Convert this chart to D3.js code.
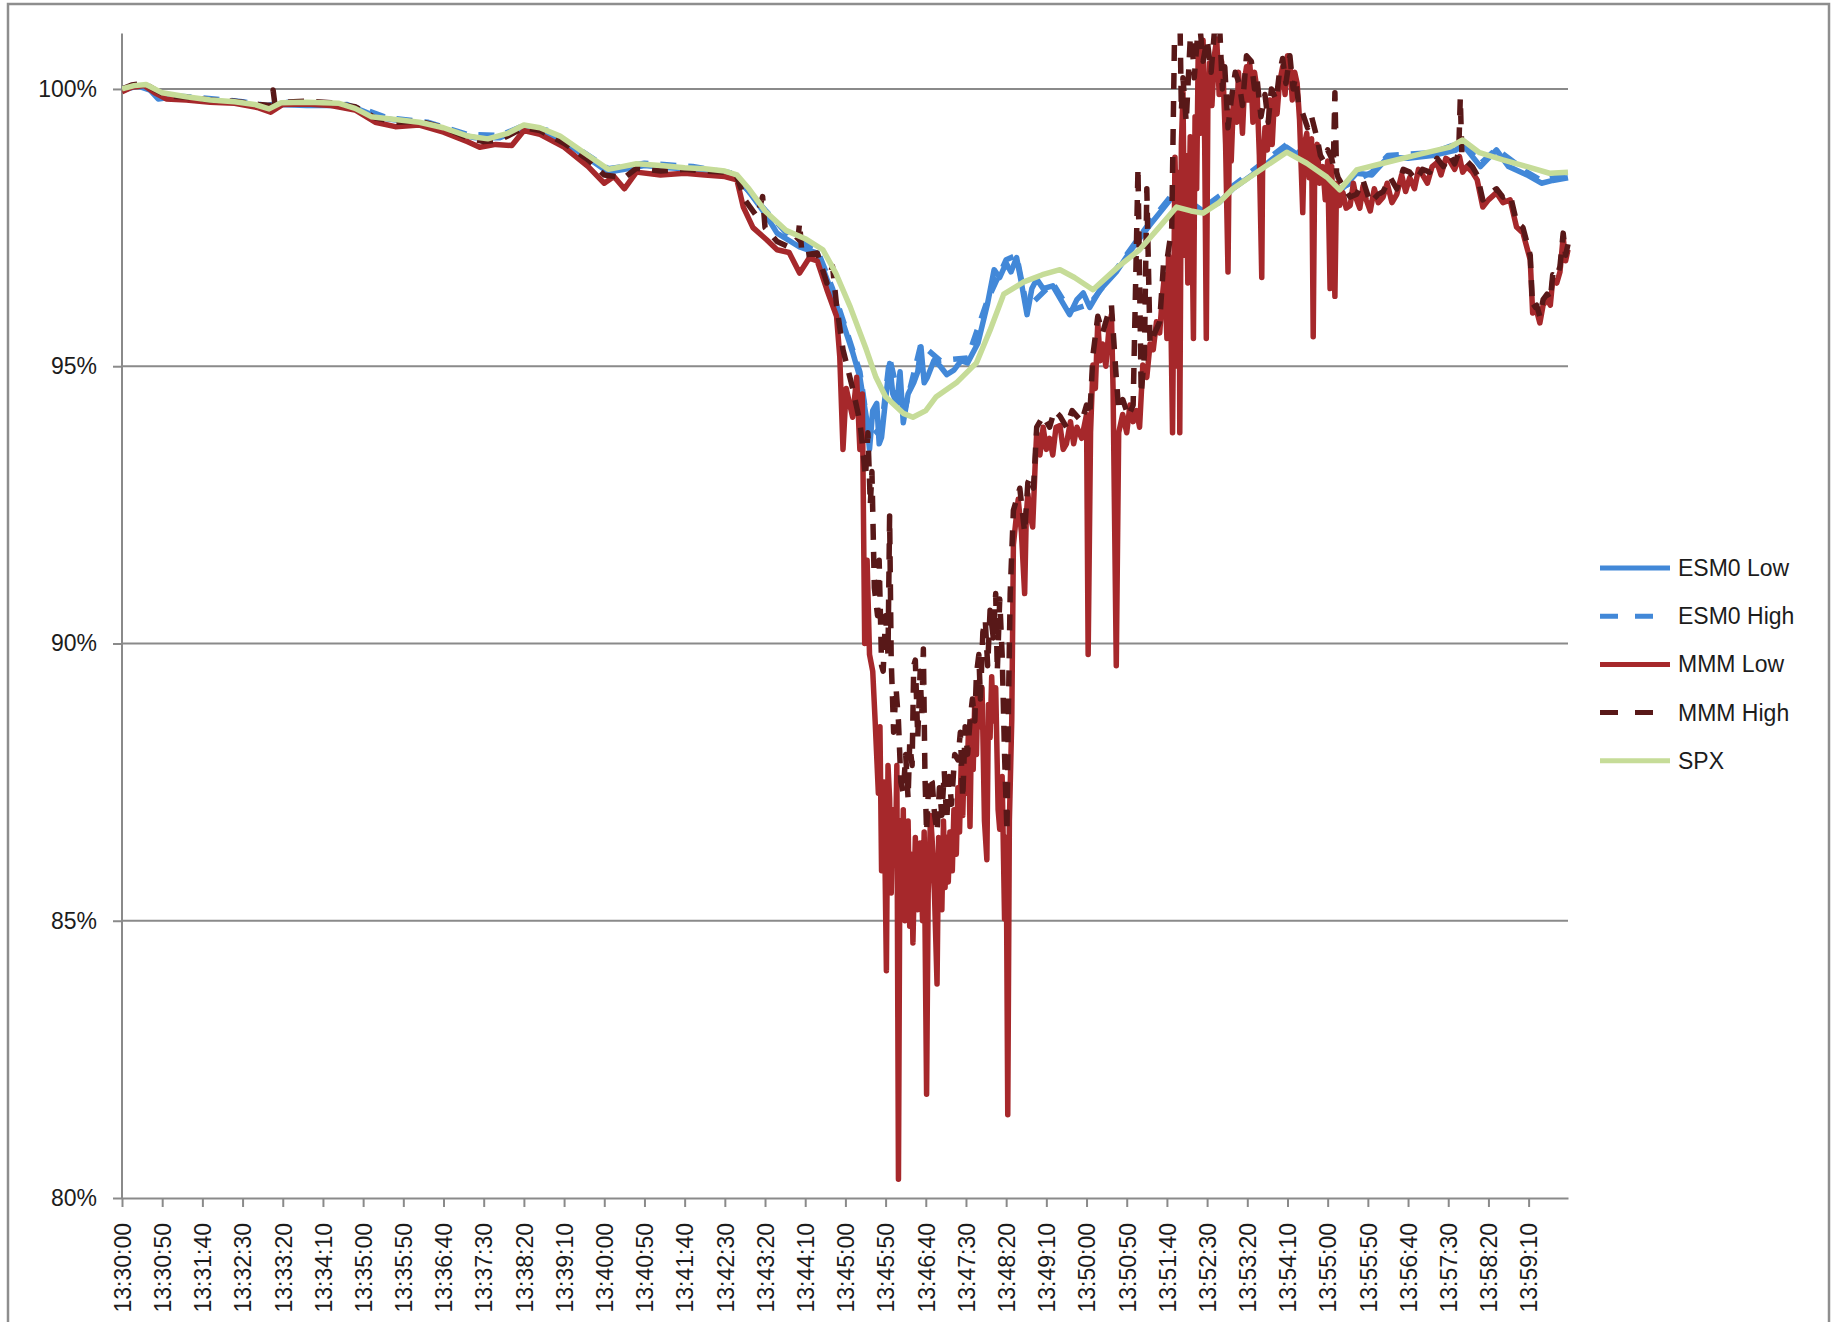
<!DOCTYPE html>
<html>
<head>
<meta charset="utf-8">
<script src="https://cdn.jsdelivr.net/npm/d3@7"></script>
<style>
	body { margin:0; background:#fff; }
	text { font-family:"Liberation Sans", Arial, sans-serif; fill:#1c1c1c; }
</style>
</head>
<body>
<svg id="chart" width="1843" height="1322"></svg>
<script>
// flash crash chart, 13:30 - 14:00, values in % of 13:30:00 level

/*
data first. time is seconds after 13:30:00, value is percent.
read off the picture, so spikes are approximate
*/
var seriesNames = ["ESM0 Low", "ESM0 High", "MMM Low", "MMM High", "SPX"];

var yTicks = [80, 85, 90, 95, 100];

// tick every 50 seconds like the excel category axis
var xTicks = d3.range(0, 1800, 50);

var esm0Low = [[0,99.98],[20,100.05],[35,99.98],[45,99.82],[60,99.85],[90,99.82],[120,99.78],[150,99.74],[180,99.66],[195,99.72],[230,99.7],[260,99.7],[280,99.72],[300,99.6],[320,99.48],[350,99.42],[380,99.35],[410,99.2],[440,99.12],[470,99.12],[500,99.3],[520,99.25],[550,99.05],[580,98.75],[605,98.5],[625,98.55],[650,98.62],[680,98.58],[710,98.55],[740,98.5],[765,98.4],[780,98.15],[800,97.75],[815,97.4],[843,97.15],[865,97.04],[884,96.3],[897,95.78],[909,95.25],[918,94.8],[926,94.08],[930,93.5],[934,94.2],[939,94.33],[942,93.6],[945,93.72],[950,94.4],[955,95.05],[959,94.5],[964,94.33],[968,94.9],[972,93.98],[978,94.5],[985,94.7],[990,94.9],[994,95.35],[998,94.7],[1002,94.8],[1010,95.1],[1018,95.0],[1026,94.85],[1035,94.93],[1044,95.1],[1052,95.06],[1065,95.42],[1077,96.14],[1085,96.74],[1092,96.6],[1100,96.86],[1106,96.7],[1113,96.96],[1119,96.5],[1126,95.93],[1132,96.4],[1138,96.57],[1146,96.4],[1158,96.45],[1168,96.2],[1179,95.93],[1188,96.2],[1196,96.32],[1204,96.06],[1217,96.38],[1237,96.7],[1258,97.15],[1279,97.55],[1304,98.0],[1320,98.05],[1345,97.8],[1365,97.95],[1382,98.2],[1416,98.55],[1449,98.95],[1474,98.7],[1499,98.4],[1515,98.15],[1536,98.48],[1555,98.45],[1575,98.77],[1600,98.75],[1630,98.8],[1660,98.9],[1668,99.0],[1690,98.6],[1710,98.9],[1725,98.6],[1748,98.45],[1766,98.3],[1780,98.35],[1799,98.4]];

var esm0High = [[0,100.0],[20,100.08],[40,99.95],[60,99.88],[100,99.84],[150,99.77],[180,99.7],[200,99.76],[260,99.74],[300,99.64],[330,99.48],[380,99.4],[430,99.18],[470,99.16],[500,99.34],[530,99.25],[570,98.9],[605,98.56],[650,98.66],[710,98.6],[760,98.48],[800,97.82],[830,97.35],[865,97.1],[884,96.4],[900,95.7],[918,94.9],[930,93.7],[945,93.9],[955,95.15],[972,94.1],[994,95.4],[1018,95.1],[1052,95.15],[1077,96.2],[1100,96.92],[1113,97.0],[1126,96.05],[1158,96.5],[1179,96.0],[1204,96.12],[1237,96.75],[1279,97.6],[1304,98.05],[1345,97.85],[1382,98.25],[1449,99.0],[1499,98.45],[1515,98.2],[1555,98.5],[1575,98.8],[1630,98.85],[1668,99.05],[1690,98.65],[1710,98.92],[1748,98.5],[1766,98.35],[1799,98.45]];

var mmmLow = [[0,99.95],[12,100.03],[28,100.06],[42,99.92],[55,99.82],[80,99.8],[110,99.76],[140,99.74],[170,99.66],[185,99.58],[200,99.72],[230,99.73],[260,99.7],[290,99.62],[315,99.4],[340,99.32],[370,99.35],[400,99.22],[430,99.05],[445,98.95],[465,99.0],[485,98.98],[500,99.25],[520,99.18],[550,98.95],[580,98.6],[600,98.3],[612,98.42],[625,98.2],[640,98.5],[670,98.45],[700,98.48],[725,98.45],[750,98.42],[765,98.36],[773,97.87],[785,97.5],[802,97.28],[815,97.1],[830,97.05],[843,96.68],[855,96.95],[865,96.9],[877,96.38],[889,95.9],[893,95.17],[897,93.5],[901,94.6],[909,94.08],[914,94.8],[918,93.5],
	[921,94.5],[924,90.0],[927,91.5],[930,89.8],[934,89.5],[937,88.6],[941,87.3],[943,88.5],[945,85.9],[948,87.5],[951,84.1],[953,87.8],[955,87.2],[957,85.5],[959,87.0],[962,86.0],[964,87.8],[966,80.34],[968,86.8],[970,85.2],[972,87.0],[974,85.0],[976,85.66],[978,86.8],[980,84.9],[982,86.2],[984,84.6],[987,86.5],[990,85.2],[993,86.4],[996,85.0],[998,86.6],[1001,81.87],[1003,85.5],[1006,86.9],[1009,86.2],[1011,85.4],[1014,83.86],[1016,86.5],[1018,86.1],[1020,85.2],[1022,86.8],[1024,85.6],[1026,86.5],[1028,85.7],[1030,86.6],[1033,85.9],[1035,87.0],[1038,86.2],[1040,87.4],[1042,86.6],[1044,87.8],[1046,86.9],[1048,88.0],[1051,87.3],[1053,88.4],[1055,86.7],[1057,88.6],[1059,87.73],[1061,89.0],[1063,88.0],[1065,89.3],[1067,88.5],[1070,89.2],[1073,86.8],[1076,86.1],[1078,88.9],[1080,88.3],[1082,89.4],[1084,88.6],[1087,89.2],[1090,87.0],[1092,86.65],[1095,87.6],[1098,85.03],[1100,86.5],[1102,81.5],[1104,86.8],[1107,88.63],[1109,91.78],[1112,92.2],[1115,92.6],[1119,92.0],[1123,90.9],[1125,92.3],[1127,92.7],[1130,92.3],[1133,92.1],[1136,93.2],[1138,93.8],[1142,93.4],[1146,93.9],[1150,93.5],[1154,93.7],[1158,93.4],[1162,93.9],[1167,93.93],[1171,93.5],[1175,93.6],[1180,94.0],[1184,93.6],[1188,93.9],[1194,93.7],[1200,94.13],[1202,89.8],[1205,93.8],[1208,95.02],[1211,94.6],[1214,95.8],[1217,95.1],[1220,95.4],[1224,95.0],[1228,95.7],[1231,95.93],[1233,94.6],[1237,89.6],[1240,93.8],[1245,94.13],[1250,93.8],[1254,94.3],[1258,94.0],[1262,94.2],[1266,93.9],[1270,95.02],[1275,94.8],[1279,95.4],[1283,95.3],[1287,95.8],[1291,95.6],[1294,96.2],[1297,96.65],[1300,95.5],[1302,97.0],[1304,96.8],[1307,93.8],[1310,98.77],[1312,97.5],[1313,95.0],[1315,98.5],[1316,93.8],[1318,99.0],[1320,99.93],[1322,97.0],[1324,98.8],[1326,96.5],[1329,99.14],[1331,97.8],[1333,95.5],[1335,99.5],[1337,98.2],[1339,100.76],[1341,99.2],[1343,100.5],[1345,100.88],[1347,99.0],[1349,95.5],[1351,99.8],[1353,100.47],[1356,99.7],[1359,100.6],[1362,100.9],[1365,99.9],[1368,100.5],[1370,100.2],[1373,99.0],[1376,96.7],[1378,99.6],[1380,98.7],[1383,99.9],[1387,99.4],[1389,100.3],[1391,99.93],[1394,99.2],[1397,100.2],[1399,100.4],[1401,99.8],[1403,100.47],[1405,100.1],[1407,99.4],[1409,100.3],[1412,100.0],[1415,98.8],[1418,96.6],[1419,98.5],[1422,99.3],[1425,98.9],[1428,99.8],[1431,99.0],[1434,99.9],[1437,99.55],[1440,100.1],[1444,100.4],[1447,99.9],[1450,100.6],[1453,100.47],[1456,99.8],[1459,100.3],[1462,100.1],[1465,99.45],[1469,97.77],[1471,99.0],[1474,99.2],[1477,98.4],[1480,99.1],[1482,95.53],[1484,98.8],[1487,99.0],[1490,98.3],[1494,98.6],[1497,98.0],[1500,98.7],[1503,96.4],[1505,98.6],[1509,96.26],[1511,98.3],[1515,97.9],[1519,98.13],[1523,97.85],[1528,97.9],[1532,98.3],[1536,98.0],[1540,97.85],[1544,98.25],[1548,98.0],[1553,97.8],[1558,98.2],[1563,97.95],[1569,98.05],[1574,98.3],[1580,97.95],[1586,98.1],[1592,98.45],[1597,98.15],[1602,98.4],[1608,98.2],[1613,98.55],[1618,98.45],[1624,98.3],[1630,98.6],[1636,98.67],[1641,98.45],[1647,98.75],[1652,98.7],[1658,98.55],[1664,98.78],[1668,98.5],[1673,98.6],[1680,98.5],[1686,98.36],[1693,97.87],[1700,98.0],[1710,98.13],[1718,97.95],[1727,98.0],[1735,97.51],[1743,97.4],[1752,96.92],[1755,95.96],[1760,96.0],[1764,95.78],[1768,96.1],[1773,96.2],[1777,96.1],[1780,96.56],[1785,96.5],[1789,96.7],[1793,97.33],[1796,96.9],[1799,97.1]];

var mmmHigh = [[0,100.0],[12,100.07],[28,100.1],[42,99.98],[55,99.88],[80,99.85],[110,99.8],[140,99.78],[170,99.72],[186,99.7],[188,99.98],[190,99.75],[230,99.78],[260,99.75],[290,99.68],[315,99.48],[340,99.4],[370,99.42],[400,99.3],[430,99.12],[450,99.05],[470,99.08],[500,99.3],[520,99.25],[550,99.02],[580,98.72],[600,98.45],[625,98.4],[640,98.57],[670,98.52],[700,98.55],[725,98.52],[750,98.5],[765,98.42],[775,98.0],[790,97.7],[797,98.06],[800,97.5],[815,97.25],[830,97.15],[841,97.3],[843,97.59],[846,97.0],[865,97.04],[877,96.5],[884,96.8],[889,96.1],[897,95.3],[909,94.6],[918,94.0],
	[921,93.6],[925,93.0],[928,93.8],[931,92.5],[933,93.1],[936,91.0],[940,90.5],[942,91.5],[945,89.6],[947,89.5],[950,90.5],[953,89.8],[955,92.3],[957,89.7],[960,88.4],[963,89.2],[966,88.6],[969,87.5],[972,87.3],[975,88.0],[978,87.2],[980,88.2],[983,87.8],[985,89.6],[987,89.7],[990,88.3],[993,89.5],[995,88.7],[997,89.9],[999,87.6],[1001,86.6],[1004,87.6],[1008,87.5],[1011,86.9],[1014,86.6],[1017,87.4],[1020,86.9],[1023,87.7],[1026,86.8],[1029,87.6],[1032,87.1],[1036,88.0],[1040,87.9],[1043,88.4],[1046,87.2],[1049,88.5],[1052,88.0],[1055,88.6],[1058,89.0],[1061,88.6],[1063,89.44],[1066,89.8],[1068,89.0],[1071,90.2],[1074,90.43],[1077,89.6],[1080,90.6],[1084,90.1],[1087,90.9],[1089,89.5],[1092,90.8],[1095,89.8],[1098,88.0],[1101,86.6],[1103,89.0],[1105,90.9],[1109,92.4],[1113,92.6],[1117,92.8],[1123,92.0],[1127,92.9],[1130,93.0],[1134,92.8],[1138,93.9],[1146,94.1],[1154,93.9],[1160,94.2],[1167,94.1],[1175,93.9],[1182,94.2],[1188,94.1],[1194,94.0],[1200,94.3],[1204,94.1],[1208,95.2],[1214,95.9],[1220,95.6],[1226,95.9],[1231,96.1],[1236,95.0],[1240,94.2],[1245,94.4],[1252,94.1],[1258,94.3],[1264,98.58],[1268,94.5],[1272,95.2],[1275,98.2],[1279,95.4],[1285,95.6],[1291,95.8],[1296,96.9],[1300,96.9],[1304,97.3],[1306,97.5],[1310,101.5],[1316,101.5],[1318,99.6],[1320,100.2],[1324,99.4],[1330,101.2],[1334,100.2],[1340,101.3],[1345,100.5],[1350,100.9],[1355,100.3],[1360,101.2],[1366,101.0],[1369,100.0],[1372,100.4],[1376,99.3],[1380,99.8],[1385,100.3],[1390,100.1],[1394,99.7],[1399,100.6],[1405,100.5],[1409,100.0],[1412,100.2],[1417,99.5],[1422,99.9],[1426,99.4],[1430,100.0],[1436,99.8],[1440,100.3],[1444,100.55],[1448,100.1],[1453,100.6],[1457,100.0],[1460,100.2],[1464,99.7],[1468,99.6],[1475,99.3],[1480,99.5],[1487,99.1],[1491,98.8],[1495,98.7],[1500,98.9],[1505,98.75],[1507,98.6],[1509,99.93],[1511,98.5],[1513,98.4],[1519,98.25],[1528,98.05],[1536,98.1],[1544,98.35],[1553,97.95],[1563,98.1],[1569,98.15],[1578,98.4],[1586,98.2],[1594,98.55],[1602,98.5],[1610,98.35],[1618,98.55],[1627,98.5],[1636,98.75],[1644,98.6],[1652,98.8],[1658,98.65],[1663,98.85],[1665,99.84],[1667,98.8],[1673,98.7],[1680,98.6],[1686,98.45],[1693,98.0],[1700,98.1],[1710,98.2],[1718,98.05],[1727,98.1],[1735,97.6],[1743,97.5],[1752,97.0],[1755,96.05],[1760,96.1],[1764,95.9],[1768,96.2],[1773,96.3],[1777,96.2],[1780,96.65],[1785,96.6],[1789,96.8],[1793,97.4],[1796,97.0],[1799,97.2]];

var spx = [[0,100.0],[15,100.06],[30,100.08],[50,99.93],[80,99.86],[110,99.8],[140,99.77],[165,99.72],[183,99.64],[198,99.75],[230,99.76],[270,99.74],[290,99.65],[310,99.5],[340,99.45],[370,99.4],[400,99.3],[430,99.15],[455,99.1],[480,99.2],[500,99.35],[520,99.3],[545,99.15],[575,98.85],[605,98.55],[640,98.65],[670,98.62],[700,98.58],[725,98.56],[750,98.52],[765,98.45],[780,98.2],[800,97.8],[826,97.45],[850,97.3],[872,97.1],[888,96.68],[906,96.07],[926,95.3],[938,94.8],[950,94.45],[972,94.15],[984,94.08],[1000,94.2],[1013,94.45],[1038,94.7],[1063,95.06],[1080,95.65],[1097,96.3],[1122,96.52],[1145,96.65],[1167,96.74],[1185,96.6],[1208,96.38],[1240,96.8],[1266,97.1],[1290,97.5],[1312,97.87],[1330,97.8],[1345,97.76],[1365,97.95],[1382,98.2],[1416,98.54],[1449,98.86],[1474,98.66],[1499,98.41],[1515,98.18],[1536,98.54],[1569,98.66],[1611,98.81],[1652,98.95],[1668,99.08],[1689,98.85],[1718,98.72],[1748,98.6],[1776,98.48],[1799,98.5]];

// looks for each series, same order as the legend (also draw order)
var styles = [
	{ color:"#4288d8", dash:null },
	{ color:"#4288d8", dash:"16,12" },
	{ color:"#a6282b", dash:null },
	{ color:"#581818", dash:"16,12" },
	{ color:"#c6dc98", dash:null }
];
var allSeries = [esm0Low, esm0High, mmmLow, mmmHigh, spx];

var plot = { left:122, right:1568, top:33.5, bottom:1198 };

var svg = d3.select("#chart");

// outer border of the excel chart area
svg.append("rect")
	.attr("x", 8).attr("y", 4)
	.attr("width", 1821).attr("height", 1340)
	.attr("fill", "none")
	.attr("stroke", "#8e8e8e")
	.attr("stroke-width", 2.5);

var x = d3.scaleLinear().domain([0, 1799]).range([plot.left, plot.right]);
var y = d3.scaleLinear().domain([80, 101]).range([plot.bottom, plot.top]);

function timeLabel(s){
	var m = 30 + Math.floor(s / 60);
	var sec = s % 60;
	return "13:" + d3.format("02")(m) + ":" + d3.format("02")(sec);
}

// horizontal gridlines
svg.append("g").selectAll("line")
	.data(yTicks.slice(1))
	.enter().append("line")
	.attr("x1", plot.left).attr("x2", plot.right)
	.attr("y1", d => y(d)).attr("y2", d => y(d))
	.attr("stroke", "#8a8a8a")
	.attr("stroke-width", 2);

var yAxis = svg.append("g")
	.attr("transform", "translate(" + plot.left + ",0)")
	.call(d3.axisLeft(y).tickValues(yTicks).tickFormat(d => d + "%").tickSize(9).tickPadding(16));

var xAxis = svg.append("g")
	.attr("transform", "translate(0," + plot.bottom + ")")
	.call(d3.axisBottom(x).tickValues(xTicks).tickFormat(timeLabel).tickSize(9).tickSizeOuter(0));

// axis look: grey lines, no outer ticks on y
yAxis.select(".domain").attr("d", "M0," + plot.top + "V" + plot.bottom).attr("stroke", "#8a8a8a").attr("stroke-width", 2);
xAxis.select(".domain").attr("stroke", "#8a8a8a").attr("stroke-width", 2);
svg.selectAll(".tick line").attr("stroke", "#8a8a8a").attr("stroke-width", 2);
svg.selectAll(".tick text").style("font-size", "23px").attr("fill", "#1c1c1c");

xAxis.selectAll(".tick text")
	.attr("transform", "rotate(-90)")
	.attr("text-anchor", "end")
	.attr("x", -25)
	.attr("y", 0)
	.attr("dy", "0.36em");

// clip so the spikes above 101% are cut off at the top
svg.append("clipPath").attr("id", "plotclip")
	.append("rect")
	.attr("x", plot.left).attr("y", plot.top)
	.attr("width", plot.right - plot.left + 4)
	.attr("height", plot.bottom - plot.top);

var line = d3.line()
	.x(d => x(d[0]))
	.y(d => y(d[1]));

var lines = svg.append("g").attr("clip-path", "url(#plotclip)");
allSeries.forEach(function(data, i){
	lines.append("path")
		.datum(data)
		.attr("d", line)
		.attr("fill", "none")
		.attr("stroke", styles[i].color)
		.attr("stroke-width", 5.5)
		.attr("stroke-linejoin", "round")
		.attr("stroke-dasharray", styles[i].dash);
});

// legend on the right
var legend = svg.append("g").attr("transform", "translate(1600,568)");
seriesNames.forEach(function(name, i){
	var row = legend.append("g").attr("transform", "translate(0," + (i * 48.2) + ")");
	row.append("line")
		.attr("x1", 0).attr("x2", 70)
		.attr("stroke", styles[i].color)
		.attr("stroke-width", 5)
		.attr("stroke-dasharray", styles[i].dash ? "18,17" : null);
	row.append("text")
		.attr("x", 78)
		.attr("dy", "0.35em")
		.style("font-size", "23px")
		.text(name);
});
</script>
</body>
</html>
